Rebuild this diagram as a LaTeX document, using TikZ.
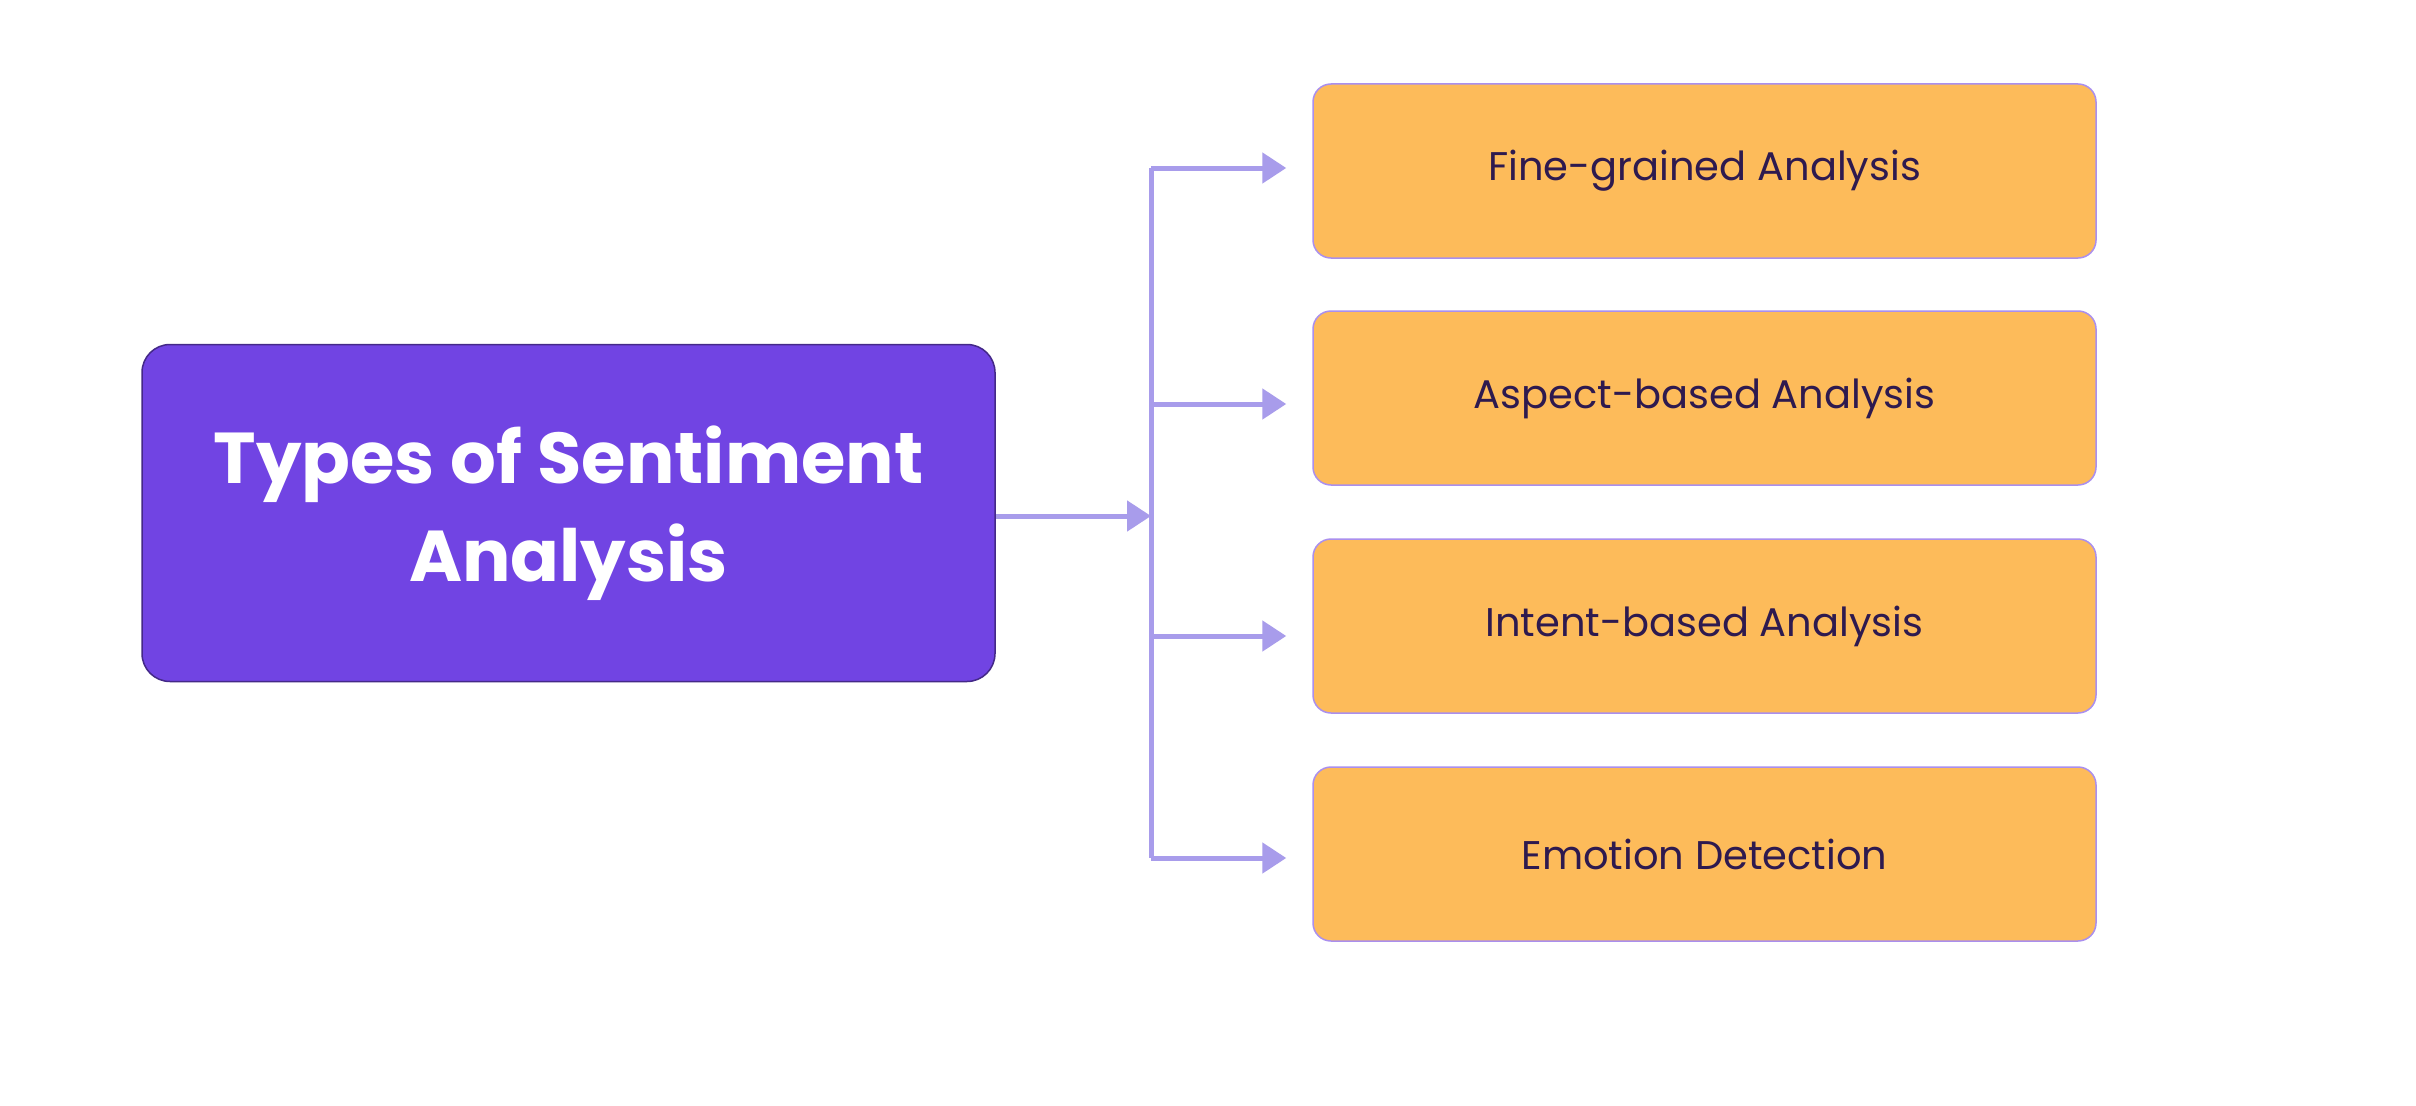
\documentclass[tikz,border=0pt]{standalone}
\usepackage{fontspec}
\setmainfont{Poppins}
\usetikzlibrary{arrows.meta}
\definecolor{purp}{HTML}{7144E3}
\definecolor{orng}{HTML}{FDBB5A}
\definecolor{txt}{HTML}{2E1A4F}
\definecolor{arr}{HTML}{A89CEB}
\begin{document}
\begin{tikzpicture}[x=1pt,y=-1pt,
 main/.style={fill=purp,draw=purp!60!black,line width=1.5pt,rounded corners=28pt,minimum width=853pt,minimum height=337pt,align=center,text=white,font=\fontsize{72}{98}\selectfont\bfseries},
 leaf/.style={fill=orng,draw=purp!60,line width=1.5pt,rounded corners=18pt,minimum width=783pt,minimum height=174pt,text=txt,font=\fontsize{40}{48}\selectfont},
 con/.style={draw=arr,line width=5pt,-{Triangle[length=24pt,width=30pt]}}]
\useasboundingbox (0,0) rectangle (2416,1105);
\fill[white] (0,0) rectangle (2416,1105);
\node[main] (m) at (568.5,513) {Types of Sentiment\\Analysis};
\node[leaf] (a) at (1704.5,171) {Fine-grained Analysis};
\node[leaf] (b) at (1704.5,398) {Aspect-based Analysis};
\node[leaf] (c) at (1704.5,626) {Intent-based Analysis};
\node[leaf] (d) at (1704.5,854) {Emotion Detection};
\coordinate (j) at (1151,516);
\coordinate (t) at (1151,168);
\coordinate (bt) at (1151,858);
\draw[con] (m.east |- j) -- (j);
\draw[draw=arr,line width=5pt] (t) -- (bt);
\draw[con] (t) -- ([xshift=-26pt]a.west |- t);
\draw[con] (1151,404) -- ([xshift=-26pt]b.west |- 0,404);
\draw[con] (1151,636) -- ([xshift=-26pt]c.west |- 0,636);
\draw[con] (bt) -- ([xshift=-26pt]d.west |- bt);
\end{tikzpicture}
\end{document}
